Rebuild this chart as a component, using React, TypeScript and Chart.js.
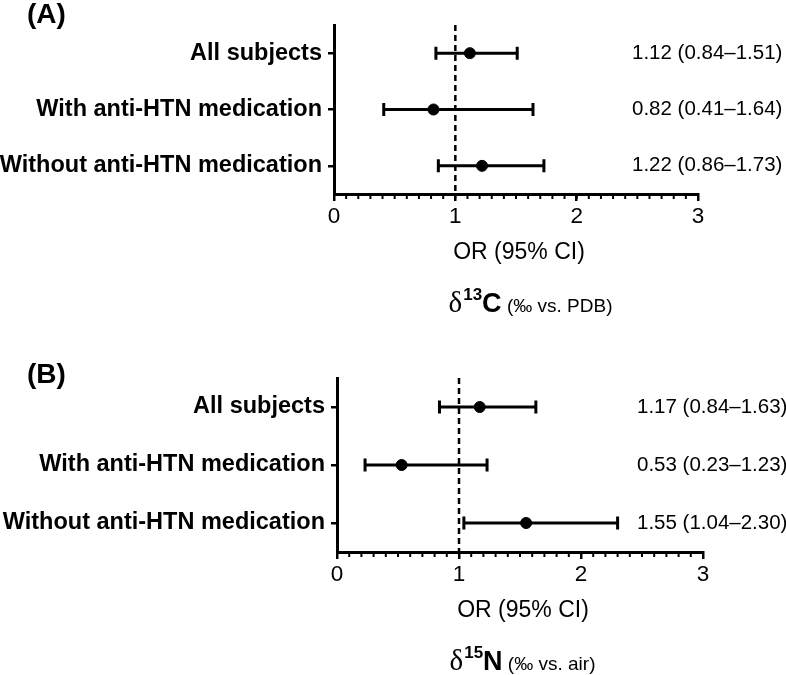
import React, { useEffect, useRef } from 'react';
import { Chart, registerables } from 'chart.js';

Chart.register(...registerables);

// ---------- data ----------
const categories = ['All subjects', 'With anti-HTN medication', 'Without anti-HTN medication'];
const orA = [1.12, 0.82, 1.22];
const loA = [0.84, 0.41, 0.86];
const hiA = [1.51, 1.64, 1.73];
const orB = [1.17, 0.53, 1.55];
const loB = [0.84, 0.23, 1.04];
const hiB = [1.63, 1.23, 2.3];
const xMin = 0;
const xMax = 3;
const xMajorStep = 1;
const xMinorStep = 0.1;
const refValue = 1;
const xAxisTitle = 'OR (95% CI)';

type Panel = {
  letter: string;
  or: number[];
  lo: number[];
  hi: number[];
  isoMass: string;
  isoElem: string;
  isoUnit: string;
  // layout
  height: number;
  top: number;
  yWidth: number;
  xHeight: number;
  padRight: number;
  letterY: number;
  captionShift: number;
};

const panels: Panel[] = [
  {
    letter: '(A)', or: orA, lo: loA, hi: hiA,
    isoMass: '13', isoElem: 'C', isoUnit: '(‰ vs. PDB)',
    height: 337, top: 25, yWidth: 334, xHeight: 143, padRight: 88, letterY: 15, captionShift: 14,
  },
  {
    letter: '(B)', or: orB, lo: loB, hi: hiB,
    isoMass: '15', isoElem: 'N', isoUnit: '(‰ vs. air)',
    height: 338, top: 41, yWidth: 337, xHeight: 123, padRight: 83, letterY: 38, captionShift: 2,
  },
];

const SANS = '"Liberation Sans", Arial, Helvetica, sans-serif';
const SERIF = '"Liberation Serif", "DejaVu Serif", serif';

function fmt(v: number) {
  return v.toFixed(2);
}

function makePlugin(p: Panel) {
  return {
    id: 'forest' + p.letter,
    beforeDatasetsDraw(chart: any) {
      const { ctx, chartArea } = chart;
      const xs = chart.scales.x;
      const ys = chart.scales.y;
      ctx.save();
      // reference dashed line
      const rx = xs.getPixelForValue(refValue);
      ctx.strokeStyle = '#000';
      ctx.lineWidth = 2.5;
      ctx.setLineDash([6, 4]);
      ctx.beginPath();
      ctx.moveTo(rx, chartArea.top);
      ctx.lineTo(rx, chartArea.bottom);
      ctx.stroke();
      ctx.setLineDash([]);
      // error bars
      ctx.lineWidth = 3;
      for (let i = 0; i < p.or.length; i++) {
        const y = ys.getPixelForValue(i);
        const x1 = xs.getPixelForValue(p.lo[i]);
        const x2 = xs.getPixelForValue(p.hi[i]);
        ctx.beginPath();
        ctx.moveTo(x1, y);
        ctx.lineTo(x2, y);
        ctx.moveTo(x1, y - 6.5);
        ctx.lineTo(x1, y + 6.5);
        ctx.moveTo(x2, y - 6.5);
        ctx.lineTo(x2, y + 6.5);
        ctx.stroke();
      }
      ctx.restore();
    },
    afterDraw(chart: any) {
      const { ctx, chartArea } = chart;
      const xs = chart.scales.x;
      const ys = chart.scales.y;
      ctx.save();
      ctx.fillStyle = '#000';
      ctx.strokeStyle = '#000';
      // minor ticks
      ctx.lineWidth = 2;
      const n = Math.round((xMax - xMin) / xMinorStep);
      for (let k = 0; k <= n; k++) {
        const v = xMin + k * xMinorStep;
        const x = xs.getPixelForValue(v);
        ctx.beginPath();
        ctx.moveTo(x, chartArea.bottom);
        ctx.lineTo(x, chartArea.bottom + 5);
        ctx.stroke();
      }
      // annotations
      ctx.font = `20.5px ${SANS}`;
      ctx.textAlign = 'left';
      ctx.textBaseline = 'middle';
      for (let i = 0; i < p.or.length; i++) {
        const y = ys.getPixelForValue(i);
        ctx.fillText(`${fmt(p.or[i])} (${fmt(p.lo[i])}–${fmt(p.hi[i])})`, chartArea.right - 66, y);
      }
      // panel letter
      ctx.font = `bold 28px ${SANS}`;
      ctx.fillText(p.letter, 27, p.letterY);
      // axis title
      const cx = (chartArea.left + chartArea.right) / 2;
      ctx.textAlign = 'center';
      ctx.font = `23px ${SANS}`;
      ctx.fillText(xAxisTitle, cx + 3, chartArea.bottom + 59);
      // isotope caption
      const base = chartArea.bottom + 118;
      ctx.textAlign = 'left';
      ctx.textBaseline = 'alphabetic';
      const fDelta = `29px ${SERIF}`;
      const fSup = `bold 17px ${SANS}`;
      const fElem = `bold 27px ${SANS}`;
      const fUnit = `19px ${SANS}`;
      ctx.font = fDelta; const wD = ctx.measureText('δ').width;
      ctx.font = fSup; const wS = ctx.measureText(p.isoMass).width;
      ctx.font = fElem; const wE = ctx.measureText(p.isoElem).width;
      ctx.font = fUnit; const wU = ctx.measureText(' ' + p.isoUnit).width;
      let x = cx + p.captionShift - (wD + wS + wE + wU) / 2;
      ctx.font = fDelta; ctx.fillText('δ', x, base); x += wD + 1;
      ctx.font = fSup; ctx.fillText(p.isoMass, x, base - 12); x += wS;
      ctx.font = fElem; ctx.fillText(p.isoElem, x, base); x += wE;
      ctx.font = fUnit; ctx.fillText(' ' + p.isoUnit, x, base);
      ctx.restore();
    },
  };
}

function ForestPanel({ p }: { p: Panel }) {
  const ref = useRef<HTMLCanvasElement | null>(null);
  useEffect(() => {
    if (!ref.current) return;
    const chart = new Chart(ref.current, {
      type: 'scatter',
      data: {
        datasets: [
          {
            data: p.or.map((v, i) => ({ x: v, y: categories[i] })) as any,
            backgroundColor: '#000',
            borderColor: '#000',
            pointRadius: 5.5,
            pointHoverRadius: 5.5,
          },
        ],
      },
      options: {
        animation: false,
        responsive: false,
        devicePixelRatio: window.devicePixelRatio || 1,
        events: [],
        layout: { padding: { top: p.top, left: 0, right: p.padRight, bottom: 0 } },
        plugins: { legend: { display: false }, tooltip: { enabled: false }, title: { display: false } },
        scales: {
          x: {
            type: 'linear',
            min: xMin,
            max: xMax,
            afterFit: (s: any) => { s.height = p.xHeight; },
            ticks: { stepSize: xMajorStep, color: '#000', font: { family: SANS, size: 22.5 }, padding: 2 },
            grid: { drawOnChartArea: false, drawTicks: true, tickLength: 7, color: '#000', lineWidth: 2.5 },
            border: { display: true, color: '#000', width: 3 },
          },
          y: {
            type: 'category',
            labels: categories,
            offset: true,
            afterFit: (s: any) => { s.width = p.yWidth; },
            ticks: { color: '#000', font: { family: SANS, size: 23.5, weight: 'bold' }, padding: 6 },
            grid: { offset: false, drawOnChartArea: false, drawTicks: true, tickLength: 6, color: '#000', lineWidth: 2.5 },
            border: { display: true, color: '#000', width: 3 },
          },
        },
      } as any,
      plugins: [makePlugin(p)],
    });
    return () => chart.destroy();
  }, [p]);
  return <canvas ref={ref} width={786} height={p.height} style={{ display: 'block', width: 786, height: p.height }} />;
}

export default function App() {
  useEffect(() => {
    document.body.style.margin = '0';
  }, []);
  return (
    <div style={{ width: 786, height: 675, background: '#fff', overflow: 'hidden' }}>
      {panels.map((p) => (
        <ForestPanel key={p.letter} p={p} />
      ))}
    </div>
  );
}
